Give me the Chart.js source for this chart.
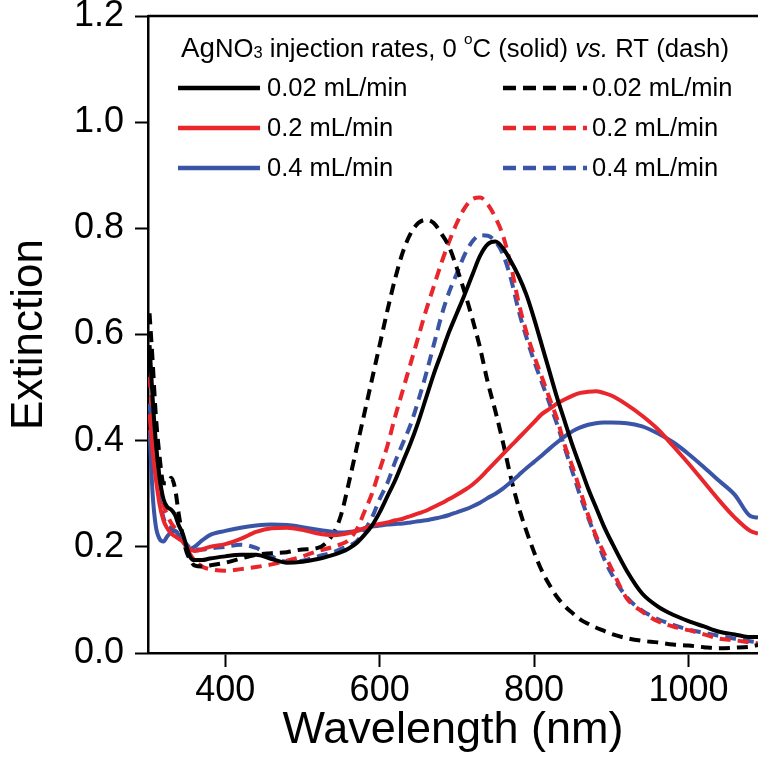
<!DOCTYPE html>
<html lang="en">
<head>
  <meta charset="UTF-8" />
  <title>AgNO3 injection rates – extinction spectra</title>
  <script src="https://cdn.jsdelivr.net/npm/chart.js"></script>
  <style>
    html, body { margin: 0; padding: 0; background: #fff; }
    #wrap { width: 758px; height: 759px; position: relative; }
  </style>
</head>
<body>
  <div id="wrap"><canvas id="spectra"></canvas></div>

  <script>
    // wavelength grid (nm)
    const wavelengths = [302, 306, 310, 315, 320, 325, 330, 335, 340, 345, 350, 355, 360, 370, 380,
      400, 420, 440, 460, 480, 500, 520, 540, 550, 560, 570, 580, 590, 600, 610, 620, 630, 640, 650,
      660, 670, 680, 690, 700, 710, 720, 730, 740, 750, 760, 770, 780, 790, 800, 810, 820, 830, 840,
      850, 860, 870, 880, 890, 900, 920, 940, 960, 980, 1000, 1020, 1040, 1060, 1080, 1090];

    // 0 °C (solid)
    const black0C = [0.58, 0.48, 0.40, 0.33, 0.29, 0.275, 0.27, 0.26, 0.24, 0.225, 0.20, 0.18, 0.175, 0.175, 0.178,
      0.182, 0.185, 0.185, 0.177, 0.17, 0.172, 0.177, 0.185, 0.19, 0.197, 0.207, 0.222, 0.24, 0.265, 0.295, 0.325, 0.36, 0.395, 0.435,
      0.48, 0.525, 0.565, 0.605, 0.64, 0.675, 0.712, 0.748, 0.77, 0.775, 0.762, 0.738, 0.71, 0.675, 0.63, 0.58, 0.53, 0.48, 0.435,
      0.39, 0.35, 0.31, 0.275, 0.24, 0.21, 0.155, 0.112, 0.088, 0.072, 0.06, 0.05, 0.04, 0.035, 0.03, 0.03];
    const red0C = [0.45, 0.38, 0.33, 0.28, 0.25, 0.235, 0.225, 0.22, 0.215, 0.21, 0.20, 0.195, 0.192, 0.195, 0.20,
      0.205, 0.215, 0.228, 0.235, 0.236, 0.232, 0.225, 0.222, 0.223, 0.226, 0.23, 0.235, 0.24, 0.243, 0.246, 0.25, 0.253, 0.258, 0.263,
      0.268, 0.275, 0.282, 0.29, 0.298, 0.307, 0.317, 0.33, 0.345, 0.36, 0.375, 0.39, 0.405, 0.42, 0.435, 0.45, 0.46, 0.47, 0.478,
      0.485, 0.49, 0.492, 0.493, 0.49, 0.485, 0.468, 0.447, 0.422, 0.39, 0.357, 0.322, 0.287, 0.255, 0.23, 0.225];
    const blue0C = [0.42, 0.30, 0.24, 0.215, 0.21, 0.22, 0.228, 0.23, 0.222, 0.21, 0.20, 0.197, 0.20, 0.212, 0.222,
      0.23, 0.236, 0.24, 0.242, 0.241, 0.237, 0.232, 0.228, 0.227, 0.228, 0.23, 0.234, 0.238, 0.24, 0.242, 0.243, 0.244, 0.246, 0.248,
      0.25, 0.253, 0.256, 0.26, 0.265, 0.27, 0.276, 0.283, 0.292, 0.30, 0.31, 0.322, 0.335, 0.348, 0.36, 0.372, 0.385, 0.397, 0.408,
      0.418, 0.425, 0.43, 0.433, 0.434, 0.434, 0.433, 0.427, 0.414, 0.397, 0.375, 0.35, 0.324, 0.298, 0.258, 0.255];

    // RT (dash)
    const blackRT = [0.64, 0.55, 0.45, 0.37, 0.32, 0.32, 0.33, 0.31, 0.26, 0.22, 0.19, 0.175, 0.165, 0.163, 0.165,
      0.17, 0.178, 0.185, 0.188, 0.19, 0.195, 0.198, 0.225, 0.26, 0.32, 0.385, 0.45, 0.515, 0.58, 0.645, 0.705, 0.755, 0.79, 0.81,
      0.816, 0.81, 0.79, 0.765, 0.725, 0.68, 0.63, 0.575, 0.51, 0.455, 0.395, 0.33, 0.275, 0.23, 0.19, 0.155, 0.128, 0.105, 0.088,
      0.075, 0.063, 0.055, 0.048, 0.042, 0.036, 0.028, 0.023, 0.02, 0.016, 0.014, 0.011, 0.009, 0.01, 0.012, 0.015];
    const redRT = [0.52, 0.45, 0.39, 0.33, 0.28, 0.26, 0.245, 0.235, 0.225, 0.217, 0.20, 0.185, 0.175, 0.163, 0.158,
      0.155, 0.158, 0.162, 0.167, 0.174, 0.182, 0.192, 0.20, 0.205, 0.213, 0.232, 0.265, 0.30, 0.345, 0.39, 0.445, 0.495, 0.545, 0.595,
      0.645, 0.69, 0.735, 0.775, 0.81, 0.838, 0.855, 0.858, 0.845, 0.82, 0.785, 0.73, 0.66, 0.605, 0.56, 0.52, 0.48, 0.44, 0.39,
      0.35, 0.305, 0.26, 0.222, 0.19, 0.16, 0.103, 0.078, 0.06, 0.05, 0.043, 0.035, 0.027, 0.024, 0.02, 0.018];
    const blueRT = [0.47, 0.40, 0.34, 0.29, 0.255, 0.24, 0.235, 0.23, 0.225, 0.215, 0.205, 0.198, 0.195, 0.195, 0.197,
      0.20, 0.204, 0.198, 0.182, 0.172, 0.174, 0.182, 0.19, 0.196, 0.202, 0.21, 0.23, 0.255, 0.29, 0.32, 0.36, 0.395, 0.43, 0.475,
      0.525, 0.58, 0.635, 0.68, 0.715, 0.75, 0.775, 0.787, 0.786, 0.775, 0.75, 0.705, 0.645, 0.595, 0.55, 0.51, 0.47, 0.43, 0.385,
      0.34, 0.295, 0.255, 0.218, 0.18, 0.15, 0.105, 0.08, 0.064, 0.053, 0.044, 0.038, 0.032, 0.027, 0.022, 0.02];

    const rateLabels = ['0.02 mL/min', '0.2 mL/min', '0.4 mL/min'];
    const xTicks = [400, 600, 800, 1000];
    const yTicks = [0, 0.2, 0.4, 0.6, 0.8, 1.0, 1.2];

    const BLACK = '#000000', RED = '#e8262b', BLUE = '#3a55a6';
    const FONT = '"Liberation Sans", Arial, sans-serif';

    const toPts = arr => arr.map((v, i) => ({ x: wavelengths[i], y: v }));

    function line(label, arr, color, dashed) {
      return {
        label: label,
        data: toPts(arr),
        borderColor: color,
        borderWidth: 4,
        borderDash: dashed ? [11, 7] : [],
        pointRadius: 0,
        cubicInterpolationMode: 'monotone',
        fill: false
      };
    }

    // legend drawn by hand (subscript, superscript, italic "vs.")
    const richLegend = {
      id: 'richLegend',
      afterDraw(chart) {
        const ctx = chart.ctx;
        const area = chart.chartArea;
        ctx.save();

        // top frame line
        ctx.strokeStyle = '#000';
        ctx.lineWidth = 2.5;
        ctx.beginPath();
        ctx.moveTo(area.left, area.top);
        ctx.lineTo(area.right, area.top);
        ctx.stroke();

        // title, squeezed between x=181 and x=729
        const runs = [
          { t: 'Ag', s: 27, dy: 0 },
          { t: 'NO', s: 25, dy: 0 },
          { t: '3', s: 16, dy: 1 },
          { t: ' injection rates, 0 ', s: 25, dy: 0 },
          { t: 'o', s: 15, dy: -13 },
          { t: 'C (solid) ', s: 25, dy: 0 },
          { t: 'vs.', s: 25, dy: 0, it: true },
          { t: ' RT (dash)', s: 25, dy: 0 }
        ];
        const fontOf = (r, k) => (r.it ? 'italic ' : '') + (r.s * k).toFixed(2) + 'px ' + FONT;
        let w = 0;
        runs.forEach(r => { ctx.font = fontOf(r, 1); w += ctx.measureText(r.t).width; });
        const k = (729 - 181) / w;
        let x = 181;
        ctx.fillStyle = '#000';
        ctx.textBaseline = 'alphabetic';
        ctx.textAlign = 'left';
        runs.forEach(r => {
          ctx.font = fontOf(r, k);
          ctx.fillText(r.t, x, 57 + r.dy);
          x += ctx.measureText(r.t).width;
        });

        // rows: solid on the left, dashed on the right
        const rows = [88, 128, 168];
        const ds = chart.data.datasets;
        ctx.font = '25.5px ' + FONT;
        ctx.textBaseline = 'middle';
        rows.forEach((y, i) => {
          [[ds[i], 178, 260, 267, []], [ds[i + 3], 503, 587, 592, [13, 7]]].forEach(([d, x0, x1, tx, dash]) => {
            ctx.strokeStyle = d.borderColor;
            ctx.lineWidth = 4.3;
            ctx.setLineDash(dash);
            ctx.beginPath();
            ctx.moveTo(x0, y);
            ctx.lineTo(x1, y);
            ctx.stroke();
            ctx.setLineDash([]);
            ctx.fillStyle = '#000';
            ctx.fillText(rateLabels[i], tx, y + 1);
          });
        });
        ctx.restore();
      }
    };

    new Chart(document.getElementById('spectra'), {
      type: 'line',
      data: {
        datasets: [
          line('0.02 mL/min (0 °C)', black0C, BLACK, false),
          line('0.2 mL/min (0 °C)', red0C, RED, false),
          line('0.4 mL/min (0 °C)', blue0C, BLUE, false),
          line('0.02 mL/min (RT)', blackRT, BLACK, true),
          line('0.2 mL/min (RT)', redRT, RED, true),
          line('0.4 mL/min (RT)', blueRT, BLUE, true)
        ]
      },
      options: {
        responsive: true,
        maintainAspectRatio: false,
        animation: false,
        devicePixelRatio: 1,
        layout: { padding: { top: 16, right: 0, left: 0, bottom: 0 } },
        plugins: {
          legend: { display: false },
          tooltip: { enabled: false }
        },
        scales: {
          x: {
            type: 'linear',
            min: 300,
            max: 1090,
            afterBuildTicks: s => { s.ticks = xTicks.map(v => ({ value: v })); },
            afterFit: s => { s.height = 106; s.paddingLeft = 0; s.paddingRight = 0; },
            grid: { drawOnChartArea: false, drawTicks: true, tickLength: 14, tickWidth: 2, color: '#000' },
            border: { display: true, color: '#000', width: 2.5 },
            ticks: {
              color: '#000',
              padding: 2,
              maxRotation: 0,
              font: { family: FONT, size: 36 },
              callback: v => String(v)
            },
            title: {
              display: true,
              text: 'Wavelength (nm)',
              color: '#000',
              font: { family: FONT, size: 45 },
              padding: { top: 0, bottom: 1 }
            }
          },
          y: {
            min: 0,
            max: 1.2,
            afterBuildTicks: s => { s.ticks = yTicks.map(v => ({ value: v })); },
            afterFit: s => { s.width = 148; s.paddingTop = 0; s.paddingBottom = 0; },
            grid: { drawOnChartArea: false, drawTicks: true, tickLength: 13, tickWidth: 2, color: '#000' },
            border: { display: true, color: '#000', width: 2.5 },
            ticks: {
              color: '#000',
              padding: 11,
              font: { family: FONT, size: 36 },
              callback: v => v.toFixed(1)
            },
            title: {
              display: true,
              text: 'Extinction',
              color: '#000',
              font: { family: FONT, size: 44 },
              padding: { top: 3, bottom: 0 }
            }
          }
        }
      },
      plugins: [richLegend]
    });
  </script>
</body>
</html>
